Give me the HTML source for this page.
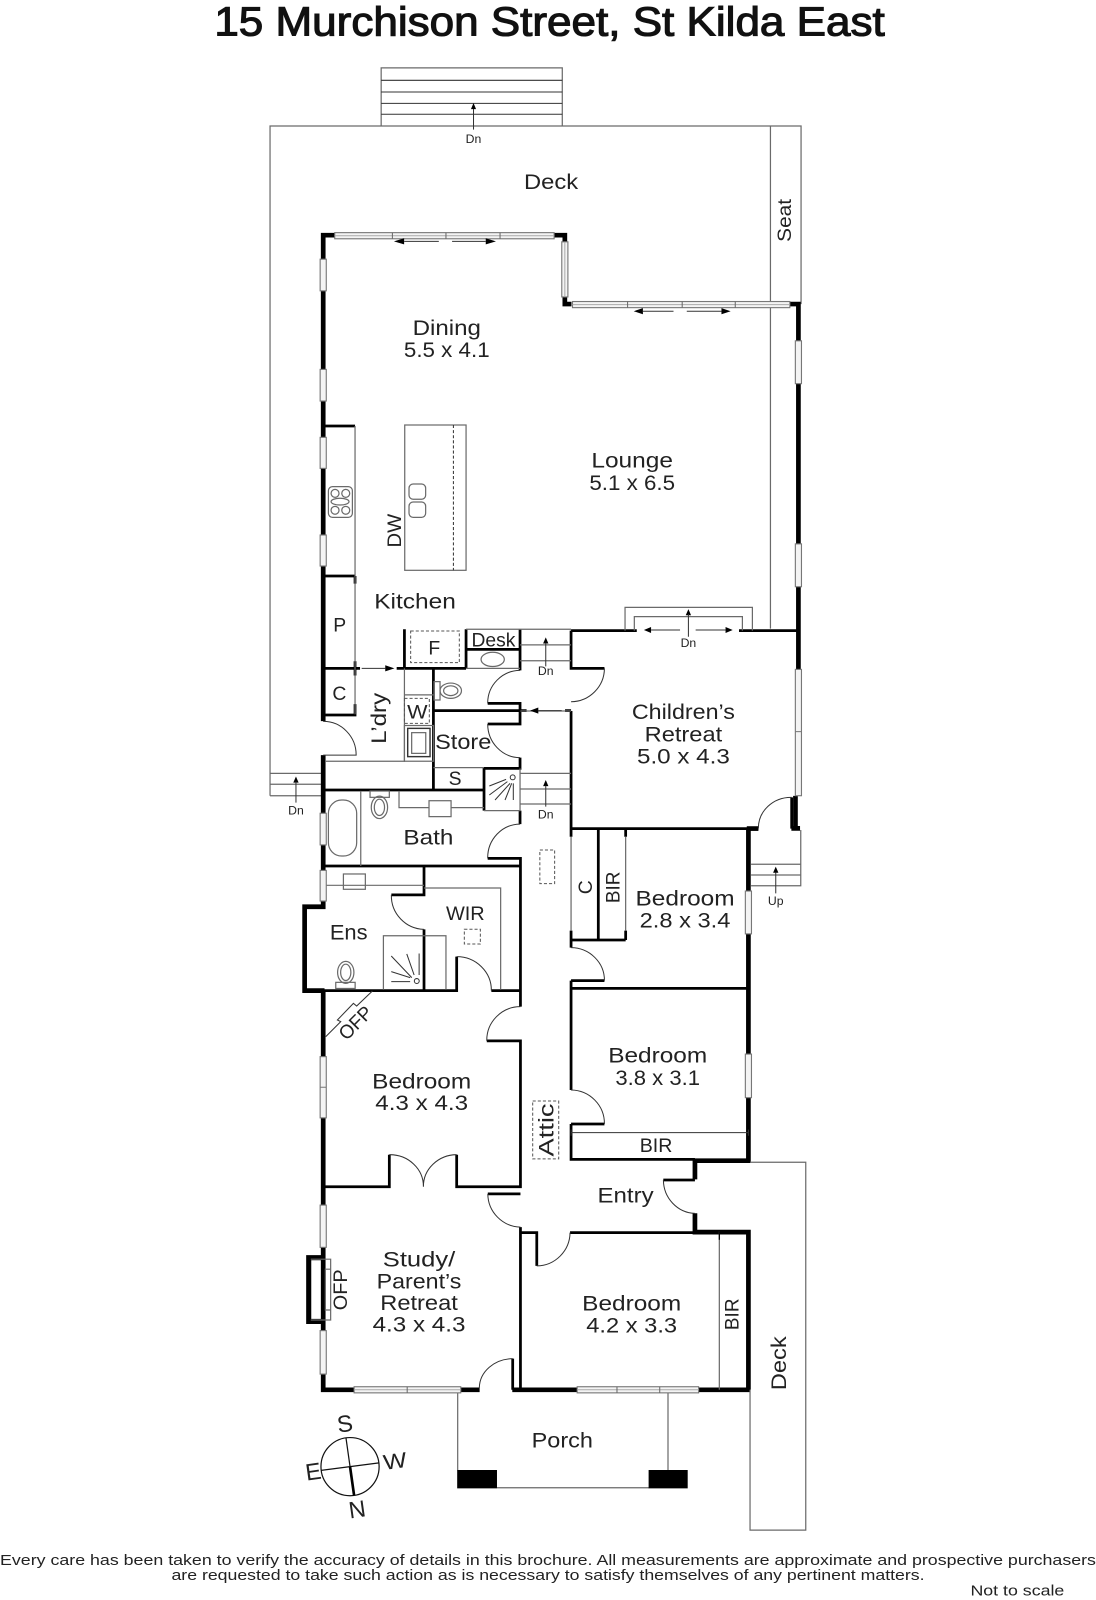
<!DOCTYPE html>
<html><head><meta charset="utf-8"><title>15 Murchison Street, St Kilda East</title>
<style>
html,body{margin:0;padding:0;background:#fff}
svg{display:block}
text{font-family:"Liberation Sans",sans-serif;fill:#222;text-anchor:middle;font-size:21px}
.s{font-size:12px}
.m{font-size:19px}
.f{font-size:14.5px}
.g{fill:none;stroke:#6a6a6a;stroke-width:1.2}
.k{fill:none;stroke:#000;stroke-width:2.7}
.K{fill:none;stroke:#000;stroke-width:4.6}
.d{fill:none;stroke:#333;stroke-width:1}
.t{fill:none;stroke:#333;stroke-width:1}
.da{fill:none;stroke:#555;stroke-width:1;stroke-dasharray:3 2}
.w{fill:#f4f4f4;stroke:#777;stroke-width:1.1}
.c{stroke:#aaa;stroke-width:1}
</style></head>
<body>
<svg xmlns="http://www.w3.org/2000/svg" width="1096" height="1600" viewBox="0 0 1074 1568">
<rect width="1074" height="1568" fill="#fff"/>
<text x="538.5" y="35" textLength="657" lengthAdjust="spacingAndGlyphs" style="font-size:40px;fill:#111;stroke:#111;stroke-width:1.1">15 Murchison Street, St Kilda East</text>

<!-- top stairs -->
<path class="g" d="M373.5 123.5V66.5H551V123.5"/>
<path class="t" d="M373.5 78.7H551M373.5 90.2H551M373.5 101.3H551M373.5 112H551"/>
<!-- deck outline -->
<path class="g" d="M264.6 779.8V123.5H785V298M755 123.5V616"/>
<path class="g" d="M264.6 757.9H316M264.6 768.6H316M264.6 779.8H316"/>
<path class="t" d="M464 127V105"/><polygon points="464,101 461.5,107 466.5,107" fill="#000"/>
<text class="s" x="464" y="140">Dn</text>
<text x="540" y="185" textLength="53" lengthAdjust="spacingAndGlyphs">Deck</text>
<text transform="translate(775,216) rotate(-90)" class="m" textLength="42" lengthAdjust="spacingAndGlyphs">Seat</text>

<!-- thick outer walls -->
<path class="K" d="M328 230.5H316.7V706.7"/>
<path class="K" d="M316.7 740V888.6H298.5V970.8H318"/>
<path class="K" d="M316.7 970.8V1362H347"/>
<path class="K" d="M451 1362H470M502 1362H566M684 1362H735"/>
<path class="K" d="M733.4 1362V1207.5H681V1189M681 1155.8V1137.5H733.4V812"/>
<path class="K" d="M543 230.5H553.5V241M553.5 276V298H560"/>
<path class="K" d="M773 298H782.4V780M779.5 780V813.4M775.5 811.8H784"/>
<path class="K" d="M731.8 812H743.2"/>
<!-- chimney -->
<path class="K" style="stroke-width:5" d="M316.7 1232.5H302.5V1295H316.7"/>
<path class="g" d="M304.5 1234H324V1293.6H304.5M318.8 1243.8H324V1283.8H318.8Z"/>

<!-- interior walls -->
<path class="k" d="M316.7 655H352.8M388.7 655H456.7M396.3 616.7V655M456.7 616.7V655M456.7 636.4H509.6M509.6 616.7V657M477.9 689.3H509.6V709.5H477.9M424.7 655V773.6M424.7 696.4H516M553.7 696.4H559.6M509.6 742.5V753H474.3V794.4M509.6 794.4V807.6M477.9 841.2H510V986.5M316.7 774.2H474.3M316.7 848.7H510M415.5 848.7V877H383.5M415.5 910.8V970.8M298 970.8H447.5V937.5M481.5 970.8H510M477 1020H510V1163H447.5V1131.6M316.7 1163H381.5V1131.6M478 1170H510M510 1202.6V1362M510 1208H526V1240.6M558.6 1208H681M559.6 618H624M724.2 618H782M559.6 618V655H592.3M559.6 696.8V812H743.2M586.3 812V921.2M559.6 921.2H613.1M559.6 812V820M559.6 912V928.7M613.1 812V820M613.1 912V921.2M559.6 961H592.3M559.6 961V1068.2M559.6 968.6H733.4M559.6 1101.5H592.3M559.6 1101.5V1136.2H681M316.7 700.7H347.9V690M316.7 417.5H347.9M316.7 564.5H347.9M347.9 564.5V572M650 1156.4H681M502.4 1331.5V1362M347.9 648V662M775.8 781.4V812"/>

<!-- grey interior lines -->
<path class="g" d="M347.9 417.5V700M318.5 746H396.3V655M396.3 681H424.7M424.7 752.3H474.3M509.6 753V794.4H474.3M353.5 775V848.7M391 775V791.5H420.4M442 791.5H474.3M456.7 616.7H559.6M509.6 632H559.6M509.6 647.5H559.6M456.7 655H509.6M509.6 757.9H559.6M509.6 773.2H559.6M509.6 787.9H559.6M559.6 696.8H510M559.6 820V912M613.1 820V912M375.7 970V917H437V970M415.5 870.2H490.6V970M316.7 867.6H415.5M612.5 618V595.2H737.3V618M621.6 618V604.3H727.5V618M736 847H784.7M736 857.5H784.7M736 868H784.7V813.4M735 1362V1499.5H789.6V1139H735M704.9 1207V1362M448.5 1365V1441M654.6 1365V1441M487 1458H636"/>
<path class="t" d="M559.6 1110H733.4M559.6 1107V1113M733.4 1107V1113"/>
<path class="k" style="stroke-width:1.2" d="M704.9 1207V1215"/>

<!-- fixtures -->
<rect class="g" x="396.6" y="416.5" width="60.1" height="142.4"/>
<path class="t" stroke-dasharray="3 2" d="M444.3 416.5V558.9"/>
<rect class="g" x="400.8" y="474.3" width="16.3" height="15" rx="4"/>
<rect class="g" x="400.8" y="492" width="16.3" height="15" rx="4"/>
<rect class="g" x="321.8" y="476.9" width="23.5" height="30.1" rx="4"/>
<circle class="g" cx="328.3" cy="483.5" r="3.9"/><circle class="g" cx="338.8" cy="483.5" r="3.9"/>
<circle class="g" cx="328.3" cy="500.1" r="3.9"/><circle class="g" cx="338.8" cy="500.1" r="3.9"/>
<ellipse class="g" cx="333.2" cy="491.6" rx="8.8" ry="3.3"/>
<rect class="da" x="402.4" y="618.4" width="47.7" height="31"/>
<ellipse class="g" cx="482.8" cy="646.2" rx="11.4" ry="7"/>
<rect class="g" x="425.3" y="668" width="5.9" height="18"/>
<ellipse class="g" cx="441.7" cy="676.9" rx="10.5" ry="7.5"/><ellipse class="g" cx="441.7" cy="676.9" rx="7" ry="4.8"/>
<rect class="da" x="396.3" y="684.4" width="24.4" height="24.5"/>
<rect class="g" x="396.3" y="711" width="28.4" height="35"/>
<rect class="t" style="stroke-width:1.4" x="399.5" y="713.8" width="21.9" height="27.7"/>
<rect class="g" x="403.4" y="718" width="13.8" height="20.3"/>
<rect class="g" x="321.8" y="784" width="27.7" height="54.9" rx="13"/>
<rect class="g" x="362.6" y="775.2" width="18.9" height="6.2"/>
<ellipse class="g" cx="371.8" cy="791.2" rx="8" ry="11"/><ellipse class="g" cx="371.8" cy="791.2" rx="5" ry="8"/>
<rect class="g" x="420.4" y="784.7" width="21.6" height="15.6"/>
<rect class="g" x="336.5" y="856.5" width="21.5" height="15"/>
<rect class="g" x="329" y="962.7" width="19" height="6"/>
<ellipse class="g" cx="338.8" cy="952.9" rx="8" ry="10.8"/><ellipse class="g" cx="338.8" cy="952.9" rx="5" ry="8"/>
<rect class="da" x="455" y="910.7" width="15.7" height="14.4"/>
<rect class="da" x="529" y="833" width="14.5" height="33"/>
<rect class="da" x="522" y="1079" width="25.5" height="56.7"/>
<!-- showers -->
<g transform="translate(502.4,761.8)"><circle class="t" r="2.4"/><path class="t" d="M-22.9 8.5L-6.5 2M-22.9 17.3L-5.2 4.2M-17.3 22.2L-2.6 5.9M-7.5 22.2L-1 5.9M.6 22.2V5.9"/></g>
<g transform="translate(408.4,961.4)"><circle class="t" r="2.4"/><path class="t" d="M2.3-5.9V-27M-2.6-5.9L-9.8-26.5M-4.9-3.3L-25-24.5M-6.5-3.3L-25-9.2M-6.5.6H-25"/></g>
<!-- OFP -->
<path class="t" d="M319.2 1015.9L333.9 1001.2L330.6 999.6L346.3 983.3L349.5 985.9L364.9 971.2"/>

<!-- doors -->
<path class="d" d="M316.7 707A32 33 0 0 1 349 740H316.7"/>
<path class="d" d="M509.6 657A32 32 0 0 0 477.9 689.3"/>
<path class="d" d="M477.9 709.5A32 33 0 0 0 509.6 742.5"/>
<path class="d" d="M509.6 807.6A32 33 0 0 0 477.9 841.2"/>
<path class="d" d="M383.5 877A33 33 0 0 0 415.5 910.8"/>
<path class="d" d="M447.5 937.5A34 33 0 0 1 481.5 970.8"/>
<path class="d" d="M510 986.5A33 33 0 0 0 477 1020"/>
<path class="d" d="M381.5 1131.6A33 31 0 0 1 414.9 1163A33 31 0 0 1 447.5 1131.6"/>
<path class="d" d="M478 1170A33 33 0 0 0 510 1202.6"/>
<path class="d" d="M526 1240.6A33 33 0 0 0 558.6 1208"/>
<path class="d" d="M469.7 1360A33 29 0 0 1 502.4 1331.5"/>
<path class="d" d="M592.3 655A33 33 0 0 1 559.6 687.7"/>
<path class="d" d="M743.2 811.8A32 30 0 0 1 775.8 781.4"/>
<path class="d" d="M559.6 928.7A33 32 0 0 1 592.3 961"/>
<path class="d" d="M559.6 1068.2A33 33 0 0 1 592.3 1101.5"/>
<path class="d" d="M650.1 1156.4A32 33 0 0 0 681 1189.1"/>

<!-- sliding doors -->
<g>
<rect class="w" x="328" y="228" width="215" height="6"/><path class="c" d="M328 231H543"/>
<path stroke="#666" d="M384.5 228V234M437 228V234M490 228V234"/>
<rect class="w" x="561" y="295.5" width="213" height="6"/><path class="c" d="M561 298.5H774"/>
<path stroke="#666" d="M615 295.5V301.5M668.5 295.5V301.5M720.5 295.5V301.5"/>
<rect class="w" x="347" y="1359" width="104.5" height="6"/><path class="c" d="M347 1362H451.5"/><path stroke="#666" d="M399 1359V1365"/>
<rect class="w" x="565.6" y="1359" width="119" height="6"/><path class="c" d="M565.6 1362H684.6"/><path stroke="#666" d="M604.6 1359V1365M646.5 1359V1365"/>
</g>
<!-- windows -->
<g>
<rect class="w" x="550.5" y="237" width="6" height="54"/><path class="c" d="M553.5 237V291"/>
<rect class="w" x="313.7" y="254" width="6" height="31"/>
<rect class="w" x="313.7" y="362" width="6" height="31"/>
<rect class="w" x="313.7" y="428.6" width="6" height="30.4"/>
<rect class="w" x="313.7" y="524.3" width="6" height="30.4"/>
<rect class="w" x="313.7" y="797" width="6" height="31"/>
<rect class="w" x="313.7" y="853" width="6" height="30"/>
<rect class="w" x="313.7" y="1035.5" width="6" height="60"/><path stroke="#777" d="M313.7 1065.5H319.7"/>
<rect class="w" x="313.7" y="1181" width="6" height="41.4"/>
<rect class="w" x="313.7" y="1304" width="6" height="42.6"/>
<rect class="w" x="779.4" y="334" width="6" height="42"/>
<rect class="w" x="779.4" y="533" width="6" height="42"/>
<rect class="w" x="779.4" y="656" width="6" height="123.8"/><path stroke="#777" d="M779.4 717H785.4"/>
<rect class="w" x="730.4" y="873.2" width="6" height="42"/>
<rect class="w" x="730.4" y="1033" width="6" height="42.7"/>
</g>

<!-- arrows -->
<g fill="#000" stroke="none">
<polygon points="386,236.5 396,233.5 396,239.5"/><polygon points="486,236.5 476,233.5 476,239.5"/>
<polygon points="621,305 630,302 630,308"/><polygon points="716,305 707,302 707,308"/>
<polygon points="631,617.4 638,614.5 638,620.3"/><polygon points="718,617.4 711,614.5 711,620.3"/>
<polygon points="674.6,597 672,603 677.2,603"/>
<polygon points="534.8,624.6 532.2,630.6 537.4,630.6"/>
<polygon points="534.8,764.4 532.2,770.4 537.4,770.4"/>
<polygon points="290,761 287.4,767 292.6,767"/>
<polygon points="760.2,849.3 757.6,855.3 762.8,855.3"/>
<polygon points="519.4,696.4 527.5,693.4 527.5,699.4"/>
<polygon points="386.5,655 377.5,652 377.5,658"/>
</g>
<path class="t" d="M396 236.5H430M443 236.5H476M630 305H660M673 305H707M638 617.4H666.4M681.7 617.4H711M674.6 624V602M534.8 653V630M534.8 790.5V770M290 786.6V766M760.2 875.5V855M527 696.4H550.4M354.4 655H378"/>

<!-- porch & compass -->
<rect x="448" y="1440.6" width="39" height="18" fill="#000"/>
<rect x="635.6" y="1440.6" width="38.3" height="18" fill="#000"/>
<circle cx="343" cy="1437.3" r="28.5" fill="none" stroke="#111" stroke-width="1.2"/>
<path stroke="#111" stroke-width="1.2" fill="none" d="M339 1409L343 1437.3M314.6 1441L371.4 1433.6"/>
<path stroke="#000" stroke-width="2.6" fill="none" d="M343 1437.3L347 1465.6"/>

<!-- labels -->
<text x="437.8" y="328.3" textLength="67" lengthAdjust="spacingAndGlyphs">Dining</text>
<text x="437.8" y="350" textLength="84" lengthAdjust="spacingAndGlyphs">5.5 x 4.1</text>
<text x="619.5" y="458" textLength="80" lengthAdjust="spacingAndGlyphs">Lounge</text>
<text x="619.5" y="480" textLength="84" lengthAdjust="spacingAndGlyphs">5.1 x 6.5</text>
<text x="406.7" y="596.2" textLength="80" lengthAdjust="spacingAndGlyphs">Kitchen</text>
<text transform="translate(393,520) rotate(-90)" class="m" textLength="33" lengthAdjust="spacingAndGlyphs">DW</text>
<text class="m" x="332.9" y="619">P</text>
<text class="m" x="332.5" y="686">C</text>
<text class="m" x="425.6" y="641.5">F</text>
<text class="m" x="483.5" y="633.5" textLength="43" lengthAdjust="spacingAndGlyphs">Desk</text>
<text transform="translate(378,704) rotate(-90)" textLength="50" lengthAdjust="spacingAndGlyphs">L’dry</text>
<text class="m" x="409" y="704" textLength="20" lengthAdjust="spacingAndGlyphs">W</text>
<text x="453.9" y="734" textLength="55" lengthAdjust="spacingAndGlyphs">Store</text>
<text class="m" x="445.9" y="769.3">S</text>
<text x="419.8" y="827.5" textLength="49" lengthAdjust="spacingAndGlyphs">Bath</text>
<text class="s" x="534.8" y="661.5">Dn</text>
<text class="s" x="534.8" y="802">Dn</text>
<text class="s" x="290" y="798">Dn</text>
<text class="s" x="674.6" y="634">Dn</text>
<text class="s" x="760.2" y="887">Up</text>
<text x="669.7" y="704.6" textLength="101" lengthAdjust="spacingAndGlyphs">Children’s</text>
<text x="669.7" y="726.8" textLength="76" lengthAdjust="spacingAndGlyphs">Retreat</text>
<text x="669.7" y="748" textLength="91" lengthAdjust="spacingAndGlyphs">5.0 x 4.3</text>
<text transform="translate(580,869.5) rotate(-90)" class="m">C</text>
<text transform="translate(607,869.6) rotate(-90)" class="m" textLength="31" lengthAdjust="spacingAndGlyphs">BIR</text>
<text x="671.3" y="887.2" textLength="97" lengthAdjust="spacingAndGlyphs">Bedroom</text>
<text x="671.3" y="908.8" textLength="89" lengthAdjust="spacingAndGlyphs">2.8 x 3.4</text>
<text class="m" x="456" y="901.6" textLength="38" lengthAdjust="spacingAndGlyphs">WIR</text>
<text x="341.7" y="920.5" textLength="37" lengthAdjust="spacingAndGlyphs">Ens</text>
<text transform="translate(353,1007) rotate(-45)" class="m" textLength="38" lengthAdjust="spacingAndGlyphs">OFP</text>
<text x="413.2" y="1066.6" textLength="97" lengthAdjust="spacingAndGlyphs">Bedroom</text>
<text x="413.2" y="1088" textLength="91" lengthAdjust="spacingAndGlyphs">4.3 x 4.3</text>
<text x="644.5" y="1041.4" textLength="97" lengthAdjust="spacingAndGlyphs">Bedroom</text>
<text x="644.5" y="1063.3" textLength="83" lengthAdjust="spacingAndGlyphs">3.8 x 3.1</text>
<text class="m" x="642.9" y="1129" textLength="32" lengthAdjust="spacingAndGlyphs">BIR</text>
<text transform="translate(542.5,1107.4) rotate(-90)" textLength="52" lengthAdjust="spacingAndGlyphs">Attic</text>
<text x="613" y="1178.6" textLength="55" lengthAdjust="spacingAndGlyphs">Entry</text>
<text x="410.6" y="1241.4" textLength="71" lengthAdjust="spacingAndGlyphs">Study/</text>
<text x="410.6" y="1262.5" textLength="83" lengthAdjust="spacingAndGlyphs">Parent’s</text>
<text x="410.6" y="1283.8" textLength="76" lengthAdjust="spacingAndGlyphs">Retreat</text>
<text x="410.6" y="1305" textLength="91" lengthAdjust="spacingAndGlyphs">4.3 x 4.3</text>
<text transform="translate(340,1264) rotate(-90)" class="m" textLength="40" lengthAdjust="spacingAndGlyphs">OFP</text>
<text x="619" y="1284.5" textLength="97" lengthAdjust="spacingAndGlyphs">Bedroom</text>
<text x="619" y="1306" textLength="89" lengthAdjust="spacingAndGlyphs">4.2 x 3.3</text>
<text transform="translate(723.5,1288) rotate(-90)" class="m" textLength="31" lengthAdjust="spacingAndGlyphs">BIR</text>
<text transform="translate(770,1336) rotate(-90)" textLength="53" lengthAdjust="spacingAndGlyphs">Deck</text>
<text x="551" y="1418.7" textLength="60" lengthAdjust="spacingAndGlyphs">Porch</text>
<text transform="translate(339,1403) rotate(-8)" style="font-size:23px">S</text>
<text transform="translate(388,1439) rotate(-8)" textLength="23" lengthAdjust="spacingAndGlyphs">W</text>
<text transform="translate(308,1450) rotate(-8)" style="font-size:23px">E</text>
<text transform="translate(351,1487) rotate(-8)" style="font-size:23px">N</text>

<!-- footer -->
<text class="f" x="537" y="1533.7" textLength="1074" lengthAdjust="spacingAndGlyphs">Every care has been taken to verify the accuracy of details in this brochure.  All measurements are approximate and prospective purchasers</text>
<text class="f" x="537" y="1548.4" textLength="738" lengthAdjust="spacingAndGlyphs">are requested to take such action as is necessary to satisfy themselves of any pertinent matters.</text>
<text class="f" x="997" y="1563.5" textLength="92" lengthAdjust="spacingAndGlyphs">Not to scale</text>
</svg>
</body></html>
